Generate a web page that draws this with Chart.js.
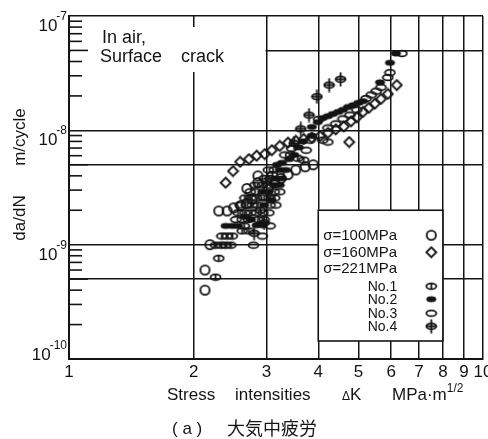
<!DOCTYPE html>
<html>
<head>
<meta charset="utf-8">
<script src="https://cdn.jsdelivr.net/npm/chart.js@4.4.1/dist/chart.umd.min.js"></script>
<style>
  html, body { margin: 0; padding: 0; background: #fff; }
</style>
</head>
<body>
<canvas id="chart" width="488" height="439"></canvas>
<script>
// crack growth rate da/dN (m/cycle) against stress intensity range ΔK (MPa·m^1/2), in air, surface crack
const kTicks = [1, 2, 3, 4, 5, 6, 7, 8, 9, 10];
const rateTicks = [1e-10, 5e-10, 1e-9, 5e-9, 1e-8, 5e-8, 1e-7];
const decades = [[1e-7, '-7'], [1e-8, '-8'], [1e-9, '-9'], [1e-10, '-10']];
const legendRows = ['σ=100MPa', 'σ=160MPa', 'σ=221MPa', 'No.1', 'No.2', 'No.3', 'No.4'];

// [ΔK, da/dN]
const sigma100 = [
  [2.13, 4.0e-10], [2.13, 6.0e-10], [2.19, 1.0e-9], [2.30, 1.97e-9], [2.41, 1.97e-9],
  [2.50, 2.1e-9], [2.60, 2.2e-9], [2.69, 2.3e-9], [2.69, 3.1e-9], [2.77, 2.5e-9],
  [2.86, 4.0e-9], [2.86, 3.5e-9], [2.94, 2.7e-9], [3.03, 3.05e-9], [3.14, 3.5e-9],
  [3.25, 3.8e-9], [3.38, 4.1e-9], [3.53, 4.5e-9], [3.72, 4.8e-9], [3.89, 5.0e-9]
];
const sigma160 = [
  [2.39, 3.48e-9], [2.49, 4.4e-9], [2.59, 5.3e-9], [2.72, 5.6e-9], [2.84, 6.0e-9],
  [2.97, 6.2e-9], [3.09, 6.7e-9], [3.23, 7.3e-9], [3.38, 7.8e-9], [3.53, 8.1e-9],
  [3.69, 8.4e-9], [3.86, 8.6e-9], [4.04, 8.9e-9], [4.22, 9.5e-9], [4.41, 1.02e-8],
  [4.61, 1.08e-8], [4.80, 1.2e-8], [4.96, 1.3e-8], [5.13, 1.45e-8], [5.30, 1.57e-8],
  [5.48, 1.71e-8], [5.67, 1.88e-8], [5.89, 2.08e-8], [6.19, 2.49e-8], [4.75, 7.9e-9]
];
const no1 = [
  [2.26, 9.9e-10], [2.33, 9.9e-10], [2.39, 9.9e-10], [2.46, 9.9e-10], [2.30, 7.6e-10],
  [2.26, 5.2e-10], [2.34, 1.19e-9], [2.41, 1.19e-9], [2.48, 1.19e-9], [2.65, 1.46e-9],
  [2.86, 1.66e-9], [2.96, 1.66e-9], [2.56, 1.9e-9], [2.66, 1.9e-9], [2.75, 1.9e-9],
  [2.77, 2.22e-9], [2.86, 2.22e-9], [2.66, 2.56e-9], [2.75, 2.56e-9], [3.04, 2.56e-9],
  [3.14, 2.56e-9], [2.81, 3.32e-9], [2.93, 3.32e-9], [3.57, 5.7e-9], [3.69, 5.5e-9],
  [2.62, 1.32e-9], [2.72, 1.32e-9], [2.90, 2.0e-9], [3.00, 3.6e-9], [3.10, 4.1e-9]
];
const no2 = [
  [2.39, 1.46e-9], [2.48, 1.46e-9], [2.56, 1.46e-9], [2.84, 1.48e-9], [2.93, 1.48e-9],
  [2.75, 1.66e-9], [2.96, 2.22e-9], [2.93, 2.9e-9], [3.03, 2.9e-9], [3.13, 3.32e-9],
  [3.23, 3.32e-9], [3.16, 3.8e-9], [3.27, 3.8e-9], [3.23, 4.5e-9], [3.34, 4.5e-9],
  [3.18, 5.0e-9], [3.27, 5.2e-9], [3.50, 6.1e-9], [3.59, 7.1e-9], [3.67, 8.0e-9],
  [3.86, 9.0e-9], [3.86, 1.07e-8], [3.99, 1.18e-8], [4.10, 1.28e-8], [4.22, 1.33e-8],
  [4.34, 1.39e-8], [4.47, 1.45e-8], [4.59, 1.51e-8], [4.72, 1.6e-8], [4.86, 1.66e-8],
  [5.00, 1.74e-8], [5.13, 1.8e-8], [5.64, 2.63e-8], [5.96, 3.9e-8], [6.16, 4.7e-8],
  [2.66, 1.75e-9], [3.08, 2.45e-9], [3.40, 5.6e-9]
];
const no3 = [
  [6.37, 4.7e-8], [5.96, 3.2e-8], [5.89, 2.9e-8], [5.67, 2.38e-8], [5.52, 2.2e-8],
  [5.37, 2.04e-8], [5.22, 1.9e-8], [4.96, 1.51e-8], [4.77, 1.36e-8], [4.59, 1.26e-8],
  [4.41, 1.14e-8], [4.22, 1.05e-8], [4.01, 1.25e-8], [4.10, 8.2e-9], [4.22, 7.9e-9],
  [2.79, 9.9e-10], [2.93, 1.19e-9], [3.06, 1.46e-9], [2.53, 1.66e-9], [2.62, 1.66e-9],
  [2.71, 1.66e-9], [2.84, 1.9e-9], [2.94, 1.9e-9], [3.04, 1.9e-9], [2.59, 2.22e-9],
  [2.68, 2.22e-9], [3.06, 2.22e-9], [3.16, 2.22e-9], [2.84, 2.56e-9], [2.94, 2.56e-9],
  [2.74, 2.9e-9], [2.83, 2.9e-9], [3.13, 2.9e-9], [3.23, 2.9e-9], [3.03, 3.32e-9],
  [2.96, 3.8e-9], [3.06, 3.8e-9], [3.03, 4.5e-9], [3.13, 4.5e-9], [3.32, 6.1e-9],
  [3.43, 6.1e-9], [3.45, 6.95e-9], [3.82, 8.2e-9], [3.74, 6.7e-9]
];
const no4 = [
  [4.53, 2.8e-8], [4.25, 2.49e-8], [3.97, 1.97e-8], [3.80, 1.36e-8], [3.63, 1.03e-8],
  [3.50, 7.7e-9], [2.80, 1.26e-9], [2.96, 1.55e-9]
];

const INK = '#141414';
const FONT = '"Liberation Sans", Arial, sans-serif';

// small hand-drawn style symbols, used both on the plot and in the key
function marker(kind) {
  const c = document.createElement('canvas');
  const round = kind === 'circle' || kind === 'diamond';
  c.width = 13;
  c.height = round ? 13 : (kind === 'no4' ? 15 : 9);
  const g = c.getContext('2d');
  const cx = c.width / 2, cy = c.height / 2;
  g.strokeStyle = INK;
  g.fillStyle = INK;
  g.lineWidth = 1.8;
  g.beginPath();
  if (kind === 'circle') {
    g.arc(cx, cy, 4.6, 0, Math.PI * 2);
  } else if (kind === 'diamond') {
    g.moveTo(cx, 1.5); g.lineTo(11.5, cy); g.lineTo(cx, 11.5); g.lineTo(1.5, cy); g.closePath();
  } else {
    g.ellipse(cx, cy, 5, 2.9, 0, 0, Math.PI * 2);
  }
  if (kind === 'no2') g.fill(); else g.stroke();
  if (kind === 'no1') {
    g.beginPath(); g.moveTo(cx, cy - 2.9); g.lineTo(cx, cy + 2.9); g.stroke();
  }
  if (kind === 'no4') {
    g.beginPath();
    g.moveTo(cx - 5, cy); g.lineTo(cx + 5, cy);
    g.moveTo(cx, 0.5); g.lineTo(cx, c.height - 0.5);
    g.stroke();
  }
  return c;
}

const symbols = {
  circle: marker('circle'), diamond: marker('diamond'),
  no1: marker('no1'), no2: marker('no2'), no3: marker('no3'), no4: marker('no4')
};
const legendSymbols = [symbols.circle, symbols.diamond, null, symbols.no1, symbols.no2, symbols.no3, symbols.no4];

function series(label, pts, sym) {
  return {
    label: label,
    data: pts.map(p => ({ x: p[0], y: p[1] })),
    pointStyle: sym,
    pointRadius: 4,
    showLine: false
  };
}

// keep the plot box exactly where the original has it
function noPad(s) {
  s.paddingLeft = 0; s.paddingRight = 0; s.paddingTop = 0; s.paddingBottom = 0;
}

const overlay = {
  id: 'overlay',
  beforeDatasetsDraw(chart) {
    // the grid stops short of the "In air" note in the original
    const { ctx, chartArea: a, scales: { x } } = chart;
    ctx.save();
    ctx.fillStyle = '#fff';
    ctx.fillRect(a.left + 2, a.top + 11, x.getPixelForValue(3) - a.left - 3, 45);
    ctx.restore();
  },
  afterDraw(chart) {
    const { ctx, chartArea: a, scales: { x, y } } = chart;
    ctx.save();
    ctx.strokeStyle = INK;
    ctx.fillStyle = INK;
    ctx.lineWidth = 1.6;

    // inward minor ticks on the rate axis
    for (let d = -10; d < -7; d++) {
      for (let m = 2; m < 10; m++) {
        const py = y.getPixelForValue(m * Math.pow(10, d));
        ctx.beginPath();
        ctx.moveTo(a.left, py);
        ctx.lineTo(a.left + (m === 5 ? 19 : 13), py);
        ctx.stroke();
      }
    }

    // decade labels 10^n
    ctx.textAlign = 'right';
    ctx.textBaseline = 'alphabetic';
    decades.forEach(([v, exp]) => {
      const py = y.getPixelForValue(v);
      const base = Math.min(py + 15, a.bottom + 1);
      ctx.font = '12px ' + FONT;
      const ew = ctx.measureText(exp).width;
      ctx.fillText(exp, a.left - 2, base - 11);
      ctx.font = '17px ' + FONT;
      ctx.fillText('10', a.left - 1 - ew, base);
    });

    // y title, rotated
    ctx.font = '17px ' + FONT;
    ctx.textAlign = 'center';
    [['m/cycle', 137], ['da/dN', 218]].forEach(([t, cy]) => {
      ctx.save();
      ctx.translate(25, cy);
      ctx.rotate(-Math.PI / 2);
      ctx.fillText(t, 0, 0);
      ctx.restore();
    });

    // x title
    ctx.textAlign = 'left';
    const xb = a.bottom + 41;
    ctx.font = '17px ' + FONT;
    ctx.fillText('Stress', 167, xb);
    ctx.fillText('intensities', 235, xb);
    ctx.font = '12px ' + FONT;
    ctx.fillText('Δ', 342, xb);
    ctx.font = '17px ' + FONT;
    ctx.fillText('K', 350, xb);
    ctx.fillText('MPa·m', 392, xb);
    const mw = ctx.measureText('MPa·m').width;
    ctx.font = '12px ' + FONT;
    ctx.fillText('1/2', 392 + mw, xb - 8);

    // note
    ctx.font = '18px ' + FONT;
    ctx.fillText('In air,', 102, a.top + 27);
    ctx.fillText('Surface', 100, a.top + 46);
    ctx.fillText('crack', 181, a.top + 46);

    // key box sits between the ΔK = 4 and 8 grid lines
    const bl = x.getPixelForValue(4), br = x.getPixelForValue(8);
    const bt = y.getPixelForValue(2e-9), bb = a.bottom - 18;
    ctx.fillStyle = '#fff';
    ctx.fillRect(bl, bt, br - bl, bb - bt);
    ctx.strokeRect(bl, bt, br - bl, bb - bt);
    ctx.fillStyle = INK;
    const rowY = [25, 42, 58, 76, 89, 103, 116];
    legendRows.forEach((t, i) => {
      const ry = bt + rowY[i];
      if (i < 3) {
        ctx.font = '15px ' + FONT;
        ctx.textAlign = 'left';
        ctx.fillText(t, bl + 5, ry + 5);
      } else {
        ctx.font = '14px ' + FONT;
        ctx.textAlign = 'right';
        ctx.fillText(t, bl + 79, ry + 5);
      }
      const s = legendSymbols[i];
      if (s) ctx.drawImage(s, bl + 113 - s.width / 2, ry - s.height / 2);
    });

    // caption
    ctx.textAlign = 'left';
    ctx.font = '17px ' + FONT;
    ctx.fillText('( a )', 172, 434);
    ctx.font = '18px "Noto Sans CJK JP", sans-serif';
    ctx.fillText('大気中疲労', 227, 435);
    ctx.restore();
  }
};

new Chart(document.getElementById('chart'), {
  type: 'scatter',
  data: {
    datasets: [
      series('No.3', no3, symbols.no3),
      series('No.1', no1, symbols.no1),
      series('No.2', no2, symbols.no2),
      series('σ=100MPa', sigma100, symbols.circle),
      series('σ=160MPa', sigma160, symbols.diamond),
      series('No.4', no4, symbols.no4)
    ]
  },
  options: {
    responsive: false,
    animation: false,
    devicePixelRatio: 1,
    events: [],
    layout: { autoPadding: false, padding: { left: 0, right: 5, top: 16, bottom: 0 } },
    plugins: { legend: { display: false }, tooltip: { enabled: false }, title: { display: false } },
    scales: {
      x: {
        type: 'logarithmic',
        min: 1,
        max: 10,
        afterBuildTicks: s => { s.ticks = kTicks.map(v => ({ value: v })); },
        afterFit: s => { s.height = 80; noPad(s); },
        ticks: {
          callback: v => String(v),
          color: INK,
          font: { family: FONT, size: 17 },
          padding: 3,
          maxRotation: 0,
          autoSkip: false
        },
        grid: { color: INK, lineWidth: 1.5, drawTicks: false },
        border: { color: INK, width: 2 }
      },
      y: {
        type: 'logarithmic',
        min: 1e-10,
        max: 1e-7,
        afterBuildTicks: s => { s.ticks = rateTicks.map(v => ({ value: v })); },
        afterFit: s => { s.width = 69; noPad(s); },
        ticks: { display: false },
        grid: { color: INK, lineWidth: 1.5, drawTicks: false },
        border: { color: INK, width: 2 }
      }
    }
  },
  plugins: [overlay]
});
</script>
</body>
</html>
